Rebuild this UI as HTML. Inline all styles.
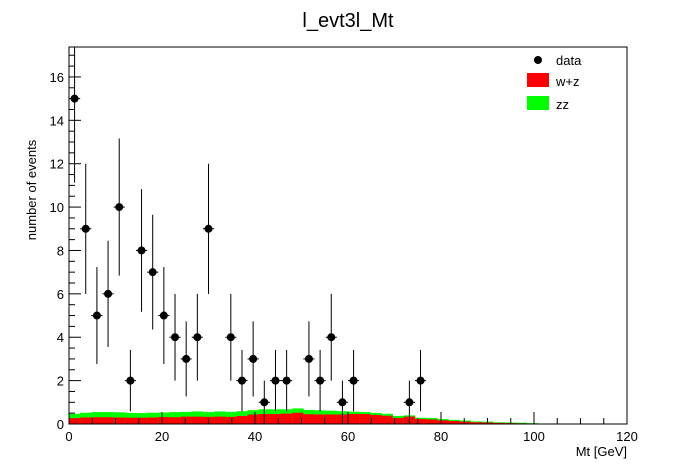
<!DOCTYPE html>
<html><head><meta charset="utf-8"><style>
body{margin:0;background:#fff;}
svg{display:block;font-family:"Liberation Sans",sans-serif;}
</style></head><body>
<svg id="chart" width="696" height="472">
<defs><clipPath id="plotclip"><rect x="69" y="47" width="558" height="377"/></clipPath></defs>
<text x="348" y="27" font-size="20" text-anchor="middle">l_evt3l_Mt</text>
<g id="hist"></g>
<g id="axes"></g>
<g id="pts" clip-path="url(#plotclip)"></g>
<rect x="69" y="47" width="558" height="377" fill="none" stroke="#000" stroke-width="1"/>
<text x="627" y="456" font-size="13" text-anchor="end">Mt [GeV]</text>
<text transform="translate(36,190) rotate(-90)" font-size="13" text-anchor="middle">number of events</text>
<g>
<g><circle cx="538" cy="60" r="4" fill="#000"/><text x="556" y="65" font-size="13">data</text></g>
<g><rect x="527" y="73" width="22" height="14" fill="#ff0000"/><text x="556" y="86" font-size="13">w+z</text></g>
<g><rect x="527" y="96" width="22" height="14" fill="#00ff00"/><text x="556" y="109" font-size="13">zz</text></g>
</g>
</svg>
<script>
const binWidth = 2.4;
const wzValues = [0.27,0.30,0.31,0.31,0.30,0.29,0.29,0.30,0.32,0.31,0.34,0.34,0.33,0.34,0.33,0.37,0.44,0.46,0.46,0.48,0.52,0.45,0.44,0.44,0.44,0.46,0.46,0.42,0.38,0.28,0.34,0.23,0.21,0.17,0.14,0.11,0.08,0.07,0.05,0.04,0.03,0.01,0,0,0,0,0,0,0,0];
const zzValues = [0.20,0.22,0.24,0.24,0.24,0.22,0.21,0.22,0.21,0.24,0.22,0.24,0.22,0.24,0.23,0.22,0.20,0.22,0.22,0.20,0.20,0.20,0.19,0.17,0.15,0.11,0.09,0.09,0.09,0.09,0.06,0.06,0.07,0.06,0.05,0.05,0.04,0.04,0.03,0.03,0.03,0.03,0.02,0.02,0.01,0,0,0,0,0];
const dataX = [1.2,3.6,6,8.4,10.8,13.2,15.6,18,20.4,22.8,25.2,27.6,30,34.8,37.2,39.6,42,44.4,46.8,51.6,54,56.4,58.8,61.2,73.2,75.6];
const dataY = [15,9,5,6,10,2,8,7,5,4,3,4,9,4,2,3,1,2,2,3,2,4,1,2,1,2];
const xTicks = [0,20,40,60,80,100,120];
const yTicks = [0,2,4,6,8,10,12,14,16];
const NS='http://www.w3.org/2000/svg';
const X0=69,X1=627,Y0=424,Y1=47,XMAX=120,YMAX=17.38;
const sx=v=>X0+v/XMAX*(X1-X0);
const sy=v=>Y0-v/YMAX*(Y0-Y1);
function mk(tag,attrs,parent){const e=document.createElementNS(NS,tag);for(const k in attrs)e.setAttribute(k,attrs[k]);parent.appendChild(e);return e;}
const hist=document.getElementById('hist');
wzValues.forEach((v,i)=>{
 const tot=v+zzValues[i];
 const x=sx(i*binWidth),w=sx((i+1)*binWidth)-x;
 if(tot>0){const g=mk('rect',{x:x,y:sy(tot),width:w+0.3,height:Y0-sy(tot),fill:'#00ff00'},hist);
 
 }
 if(v>0){const r=mk('rect',{x:x,y:sy(v),width:w+0.3,height:Y0-sy(v),fill:'#ff0000'},hist);
 
 }
});
const ax=document.getElementById('axes');
for(let v=0;v<=XMAX;v+=5){const big=v%20===0;mk('line',{x1:sx(v),x2:sx(v),y1:Y0,y2:Y0-(big?12:6),stroke:'#000'},ax);}
xTicks.forEach(v=>{const t=mk('text',{x:sx(v),y:441,'font-size':13,'text-anchor':'middle'},ax);t.textContent=v;
 
 });
for(let v=0;v<=17;v+=0.5){const big=v%2===0;mk('line',{x1:X0,x2:X0+(big?12:6),y1:sy(v),y2:sy(v),stroke:'#000'},ax);}
yTicks.forEach(v=>{const t=mk('text',{x:64,y:sy(v)+5,'font-size':13,'text-anchor':'end'},ax);t.textContent=v;
 
 });
const pts=document.getElementById('pts');
dataX.forEach((x,i)=>{
 const y=dataY[i],e=Math.sqrt(y);
 const g=mk('g',{},pts);
 
 
 mk('line',{x1:sx(x),x2:sx(x),y1:sy(y+e),y2:sy(Math.max(0,y-e)),stroke:'#000'},g);
 mk('line',{x1:sx(x-1.2),x2:sx(x+1.2),y1:sy(y),y2:sy(y),stroke:'#000'},g);
 mk('circle',{cx:sx(x),cy:sy(y),r:4,fill:'#000'},g);
});
</script>
</body></html>
